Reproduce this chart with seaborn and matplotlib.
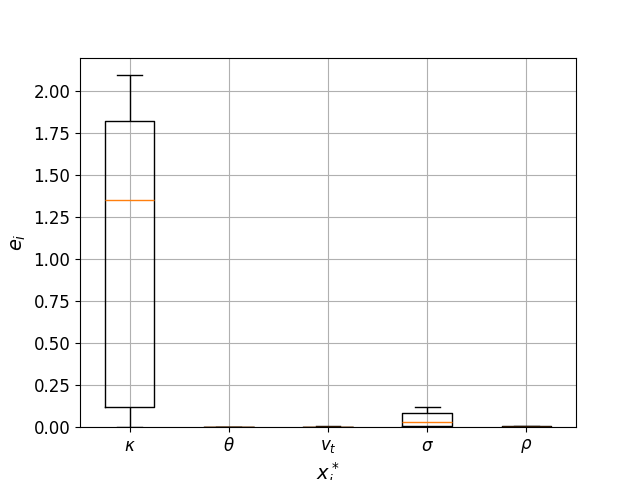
import matplotlib
matplotlib.use('Agg')
import matplotlib.pyplot as plt
import pandas as pd
import seaborn as sns

# 변수 이름 (x축 눈금)
params = [r'$\kappa$', r'$\theta$', r'$v_t$', r'$\sigma$', r'$\rho$']

# 각 변수의 오차 샘플 (최소, Q1, 중앙값, Q3, 최대)
err_kappa = [0.004, 0.119, 1.351, 1.821, 2.095]
err_theta = [0.0, 0.0003, 0.0005, 0.0008, 0.001]
err_vt = [0.001, 0.002, 0.003, 0.004, 0.006]
err_sigma = [0.003, 0.008, 0.028, 0.083, 0.119]
err_rho = [0.0, 0.001, 0.003, 0.005, 0.018]

errors = [err_kappa, err_theta, err_vt, err_sigma, err_rho]
df = pd.DataFrame({
    'param': [p for p, e in zip(params, errors) for _ in e],
    'err': [v for e in errors for v in e],
})

fig, ax = plt.subplots(figsize=(6.4, 4.8), dpi=100)

sns.boxplot(x='param', y='err', data=df, order=params, ax=ax,
            fill=False, color='black', width=0.5, linewidth=1,
            whis=1.5, showfliers=False,
            medianprops={'color': '#ff7f0e'})

ax.grid(True, color='#b0b0b0', linewidth=0.8)
ax.set_axisbelow(True)
ax.set_ylim(0, 2.2)
ax.set_xlim(-0.5, 4.5)
ax.set_yticks([0, 0.25, 0.5, 0.75, 1.0, 1.25, 1.5, 1.75, 2.0])
ax.set_yticklabels([f'{t:.2f}' for t in ax.get_yticks()])
ax.tick_params(labelsize=12)
ax.set_xlabel(r'$x_i^*$', fontsize=14)
ax.set_ylabel(r'$e_i$', fontsize=14)

fig.savefig('out.png', dpi=100)
